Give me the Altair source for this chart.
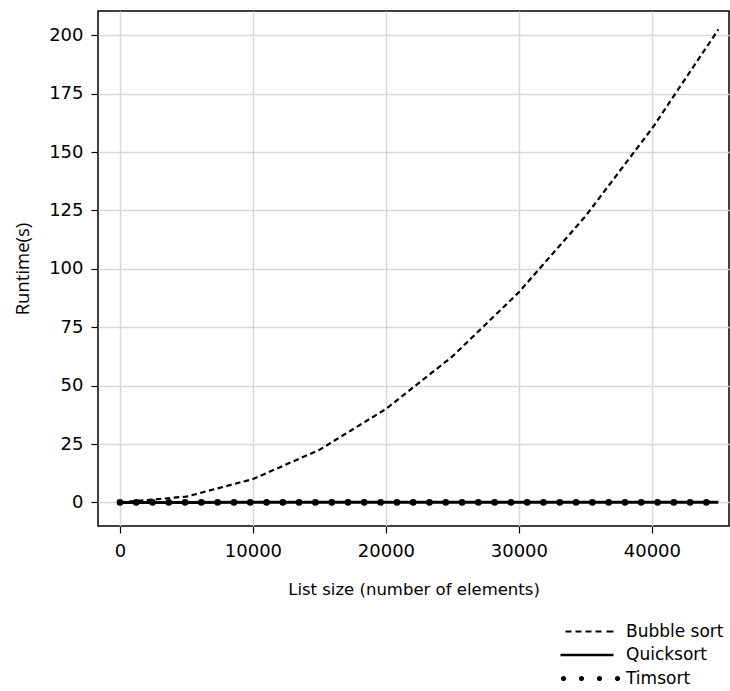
import altair as alt
import pandas as pd

series_names = ["Bubble sort", "Quicksort", "Timsort"]

bubble_x = [0, 5000, 10000, 15000, 20000, 25000, 30000, 35000, 40000, 45000]
bubble_y = [0, 2.5, 10, 22.5, 40, 62.5, 90, 122.5, 160, 202.5]

quick_x = [0, 5000, 10000, 15000, 20000, 25000, 30000, 35000, 40000, 45000]
quick_y = [0, 0.01, 0.02, 0.03, 0.04, 0.05, 0.06, 0.07, 0.08, 0.09]

tim_x = [0, 1225, 2450, 3675, 4900, 6125, 7350, 8575, 9800, 11025, 12250, 13475,
         14700, 15925, 17150, 18375, 19600, 20825, 22050, 23275, 24500, 25725,
         26950, 28175, 29400, 30625, 31850, 33075, 34300, 35525, 36750, 37975,
         39200, 40425, 41650, 42875, 44100]
tim_y = [0.0] * len(tim_x)

x_ticks = [0, 10000, 20000, 30000, 40000]
y_ticks = [0, 25, 50, 75, 100, 125, 150, 175, 200]

bubble = pd.DataFrame({"size": bubble_x, "runtime": bubble_y, "series": series_names[0]})
quick = pd.DataFrame({"size": quick_x, "runtime": quick_y, "series": series_names[1]})
tim = pd.DataFrame({"size": tim_x, "runtime": tim_y, "series": series_names[2]})

FONT = "DejaVu Sans"

x_enc = alt.X("size:Q",
              scale=alt.Scale(domain=[-1650, 45800], nice=False, zero=False),
              axis=alt.Axis(values=x_ticks, format="d", title="List size (number of elements)",
                            titleFont=FONT, titleFontSize=16.5, titleFontWeight="normal",
                            titlePadding=21, labelPadding=9))
y_enc = alt.Y("runtime:Q",
              scale=alt.Scale(domain=[-10.1, 210.4], nice=False, zero=False),
              axis=alt.Axis(values=y_ticks, format="d", title="Runtime(s)",
                            titleFont="Open Sans", titleFontSize=18.5, titleFontWeight="normal",
                            titlePadding=16, labelPadding=8))

bubble_line = alt.Chart(bubble).mark_line(color="black", strokeWidth=2.2, strokeDash=[5.5, 3.5]).encode(
    x=x_enc, y=y_enc)
quick_line = alt.Chart(quick).mark_line(color="black", strokeWidth=3).encode(x=x_enc, y=y_enc)
tim_points = alt.Chart(tim).mark_point(filled=True, color="black", opacity=1, size=44).encode(
    x=x_enc, y=y_enc)

# legend symbols (units of 5 px, anchor at right end of the line symbols)
dash_path = ("M-9.6,-0.2H-8.4V0.2H-9.6Z M-7.6,-0.2H-6.4V0.2H-7.6Z M-5.6,-0.2H-4.4V0.2H-5.6Z "
             "M-3.6,-0.2H-2.4V0.2H-3.6Z M-1.4,-0.2H0V0.2H-1.4Z")
solid_path = "M-10.6,-0.25H0V0.25H-10.6Z"


def dot(cx, r=0.52):
    return f"M{cx - r},0 a{r},{r} 0 1,0 {2 * r},0 a{r},{r} 0 1,0 {-2 * r},0 Z"


dots_path = " ".join(dot(c) for c in [-10, -6.4, -2.8, 0.8])

legend_layer = alt.Chart(bubble).mark_point(filled=True, color="black", opacity=1).encode(
    x=x_enc, y=y_enc,
    shape=alt.Shape("series:N",
                    scale=alt.Scale(domain=series_names, range=[dash_path, solid_path, dots_path]),
                    legend=alt.Legend(title=None, orient="none", legendX=507, legendY=612,
                                      symbolSize=100, symbolStrokeWidth=0, symbolFillColor="black",
                                      symbolOpacity=1, labelFont=FONT, labelFontSize=17,
                                      labelColor="black", labelOffset=4, rowPadding=5.5, padding=0))
).transform_filter("false")

chart = alt.layer(bubble_line, quick_line, tim_points, legend_layer).properties(
    width=631, height=515,
    autosize=alt.AutoSizeParams(type="none"),
    padding={"left": 98, "top": 11, "right": 1, "bottom": 165},
).configure_view(
    stroke="black", strokeWidth=1.5
).configure_axis(
    grid=True, gridColor="#d9d9d9", gridWidth=1.5, domain=False,
    tickColor="black", tickSize=7, tickWidth=1.2,
    labelFont=FONT, labelFontSize=18, labelColor="black", titleColor="black"
)

chart.save("out.html", embed_options={"renderer": "svg", "actions": False})
